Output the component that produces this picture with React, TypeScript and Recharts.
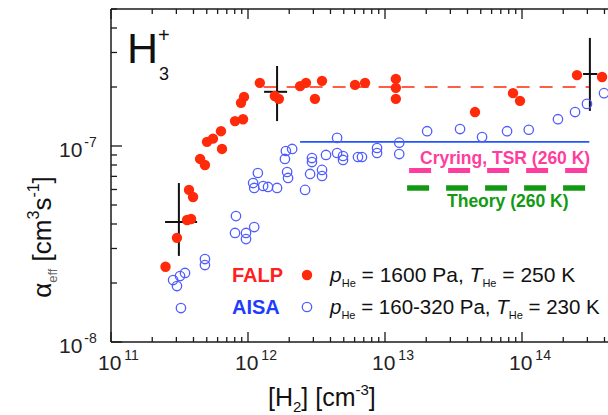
import React from "react";
import { ScatterChart, Scatter, XAxis, YAxis, ReferenceLine } from "recharts";

// ---------- data ----------
const falpX = [2.5e11, 3.03e11, 3.59e11, 3.84e11, 3.71e11, 3.97e11, 4.47e11, 4.85e11, 5.02e11, 5.55e11, 6.35e11, 6.46e11, 8.04e11, 9.2e11, 8.89e11, 9.35e11, 1.22e12, 1.57e12, 1.68e12, 2.4e12, 2.65e12, 3.47e12, 3.08e12, 6.04e12, 7.15e12, 1.2e13, 1.2e13, 1.2e13, 4.54e13, 8.6e13, 9.67e13, 2.52e14, 3.84e14];
const falpY = [2.42e-8, 3.4e-8, 4.19e-8, 4.24e-8, 5.97e-8, 5.49e-8, 8.59e-8, 8.0e-8, 1.05e-7, 1.09e-7, 1.19e-7, 9.66e-8, 1.34e-7, 1.37e-7, 1.66e-7, 1.78e-7, 2.1e-7, 1.8e-7, 1.74e-7, 2.02e-7, 2.1e-7, 2.15e-7, 1.74e-7, 2.05e-7, 2.1e-7, 2.2e-7, 1.98e-7, 1.74e-7, 1.49e-7, 1.86e-7, 1.7e-7, 2.3e-7, 2.25e-7];

const aisaX = [3.24e11, 2.84e11, 3.03e11, 3.19e11, 3.47e11, 4.85e11, 4.85e11, 8.17e11, 8.04e11, 9.67e11, 9.67e11, 1.11e12, 1.09e12, 1.11e12, 1.18e12, 1.29e12, 1.4e12, 1.63e12, 1.93e12, 1.96e12, 2.61e12, 2.84e12, 3.47e12, 3.47e12, 1.86e12, 1.89e12, 2.1e12, 2.93e12, 2.93e12, 3.71e12, 4.47e12, 4.47e12, 4.94e12, 4.94e12, 6.35e12, 6.79e12, 8.75e12, 8.75e12, 1.27e13, 1.27e13, 2.03e13, 3.53e13, 5.11e13, 7.78e13, 1.12e14, 1.83e14, 2.44e14, 2.98e14, 3.97e14];
const aisaY = [1.49e-8, 2.07e-8, 1.93e-8, 2.17e-8, 2.25e-8, 2.65e-8, 2.47e-8, 4.39e-8, 3.6e-8, 3.6e-8, 3.35e-8, 3.86e-8, 6.47e-8, 6.11e-8, 7.28e-8, 6.25e-8, 6.18e-8, 6.11e-8, 7.37e-8, 6.87e-8, 5.97e-8, 7.2e-8, 7.55e-8, 7.03e-8, 8.59e-8, 9.43e-8, 9.66e-8, 8.68e-8, 8.28e-8, 9.0e-8, 9.21e-8, 1.1e-7, 8.89e-8, 8.49e-8, 8.79e-8, 8.79e-8, 9.77e-8, 9.21e-8, 1.04e-7, 9.1e-8, 1.19e-7, 1.22e-7, 1.11e-7, 1.19e-7, 1.21e-7, 1.37e-7, 1.49e-7, 1.64e-7, 1.86e-7];

// horizontal reference levels
const falpFitY = 2.0e-7;
const falpFitX = [1.3e12, 3.1e14];
const aisaFitY = 1.05e-7;
const aisaFitX = [2.4e12, 3.1e14];
const tsrY = 7.5e-8;
const tsrX = [1.5e13, 3.1e14];
const theoryY = 6.1e-8;
const theoryX = [1.45e13, 3.0e14];

// error crosses
const errCenterX = [3.13e11, 1.63e12, 3.13e14];
const errCenterY = [4.09e-8, 1.89e-7, 2.33e-7];
const errXLow = [2.48e11, 1.31e12, 2.79e14];
const errXHigh = [4.25e11, 1.93e12, 3.55e14];
const errYLow = [2.75e-8, 1.34e-7, 1.51e-7];
const errYHigh = [6.47e-8, 2.56e-7, 3.56e-7];

// axes
const xDecades = [1e11, 1e12, 1e13, 1e14, 1e15];
const xLabelledDecades = [1e11, 1e12, 1e13, 1e14];
const yDecades = [1e-8, 1e-7];
const minorMult = [2, 3, 4, 5, 6, 7, 8, 9];
const yTop = 5e-7;

const xTicks: number[] = [];
xDecades.forEach((d, i) => {
  xTicks.push(d);
  if (i < xDecades.length - 1) minorMult.forEach((m) => xTicks.push(d * m));
});
const yTicks: number[] = [];
yDecades.forEach((d) => {
  yTicks.push(d);
  minorMult.forEach((m) => {
    if (d * m <= yTop * 1.0001) yTicks.push(d * m);
  });
});

const falpData = falpX.map((x, i) => ({ x, y: falpY[i] }));
const aisaData = aisaX.map((x, i) => ({ x, y: aisaY[i] }));

// ---------- layout ----------
const FONT = "'Liberation Sans', Arial, Helvetica, sans-serif";
const PL = 111;
const PT = 9;
const PB = 342;
const CW = 680;
const CH = 415;
const AX = "#1a1a1a";

const isDecade = (v: number) => Math.abs(Math.log10(v) - Math.round(Math.log10(v))) < 1e-6;
const isLabelled = (v: number) => xLabelledDecades.some((d) => Math.abs(d - v) / d < 1e-6);

const BottomTick = (props: any) => {
  const { x, payload } = props;
  const v = payload.value;
  const major = isDecade(v);
  const e = Math.round(Math.log10(v));
  return (
    <g>
      <line x1={x} x2={x} y1={PB} y2={PB - (major ? 10 : 5)} stroke={AX} strokeWidth={1.3} />
      {major && isLabelled(v) && (
        <text x={x - 13} y={370} fontSize={21} fontFamily={FONT} fill="#222" textAnchor="start">
          10
          <tspan dx={3} dy={-10} fontSize={14}>{e}</tspan>
        </text>
      )}
    </g>
  );
};

const TopTick = (props: any) => {
  const { x, payload } = props;
  const major = isDecade(payload.value);
  return <line x1={x} x2={x} y1={PT} y2={PT + (major ? 10 : 5)} stroke={AX} strokeWidth={1.3} />;
};

const LeftTick = (props: any) => {
  const { y, payload } = props;
  const v = payload.value;
  const major = isDecade(v);
  const e = Math.round(Math.log10(v));
  return (
    <g>
      <line x1={PL} x2={PL + (major ? 11 : 6)} y1={y} y2={y} stroke={AX} strokeWidth={1.3} />
      {major && (
        <text x={59} y={y + 11} fontSize={21} fontFamily={FONT} fill="#222">
          10
          <tspan dx={2} dy={-10} fontSize={14}>{"-" + Math.abs(e)}</tspan>
        </text>
      )}
    </g>
  );
};

const RedDot = (p: any) => <circle cx={p.cx} cy={p.cy} r={5.2} fill="#ff2a0a" />;
const BlueRing = (p: any) => (
  <circle cx={p.cx} cy={p.cy} r={4.7} fill="none" stroke="#4f5cff" strokeWidth={1.3} />
);

export default function App() {
  return (
    <div style={{ position: "fixed", left: 0, top: 0, width: 608, height: 415, overflow: "hidden", background: "#fff" }}>
      <div style={{ position: "absolute", left: 0, top: 0 }}>
        <ScatterChart width={CW} height={CH} margin={{ top: PT - 1, right: CW - PL - 548, bottom: CH - PB - 1, left: PL - 1 }}>
          <XAxis
            xAxisId={0}
            dataKey="x"
            type="number"
            scale="log"
            domain={[1e11, 1e15]}
            allowDataOverflow
            ticks={xTicks}
            interval={0}
            height={1}
            tickLine={false}
            tick={<BottomTick />}
            axisLine={{ stroke: AX, strokeWidth: 1.5 }}
          />
          <XAxis
            xAxisId="top"
            orientation="top"
            dataKey="x"
            type="number"
            scale="log"
            domain={[1e11, 1e15]}
            allowDataOverflow
            ticks={xTicks}
            interval={0}
            height={1}
            tickLine={false}
            tick={<TopTick />}
            axisLine={{ stroke: AX, strokeWidth: 1.5 }}
          />
          <YAxis
            dataKey="y"
            type="number"
            scale="log"
            domain={[1e-8, yTop]}
            allowDataOverflow
            ticks={yTicks}
            interval={0}
            width={1}
            tickLine={false}
            tick={<LeftTick />}
            axisLine={{ stroke: AX, strokeWidth: 1.5 }}
          />
          <ReferenceLine
            ifOverflow="visible"
            segment={[{ x: aisaFitX[0], y: aisaFitY }, { x: aisaFitX[1], y: aisaFitY }]}
            stroke="#2255ff"
            strokeWidth={1.6}
          />
          <ReferenceLine
            ifOverflow="visible"
            segment={[{ x: falpFitX[0], y: falpFitY }, { x: falpFitX[1], y: falpFitY }]}
            stroke="#ff2a0a"
            strokeWidth={1.6}
            strokeDasharray="13 10"
          />
          <ReferenceLine
            ifOverflow="visible"
            segment={[{ x: tsrX[0], y: tsrY }, { x: tsrX[1], y: tsrY }]}
            stroke="#ff3d9e"
            strokeWidth={5}
            strokeDasharray="22 17"
          />
          <ReferenceLine
            ifOverflow="visible"
            segment={[{ x: theoryX[0], y: theoryY }, { x: theoryX[1], y: theoryY }]}
            stroke="#139a13"
            strokeWidth={5.5}
            strokeDasharray="22 17"
          />
          <Scatter data={aisaData} shape={BlueRing} isAnimationActive={false} />
          <Scatter data={falpData} shape={RedDot} isAnimationActive={false} />
          {errCenterX.map((cx, i) => (
            <ReferenceLine
              key={"v" + i}
              ifOverflow="visible"
              segment={[{ x: cx, y: errYLow[i] }, { x: cx, y: errYHigh[i] }]}
              stroke="#111"
              strokeWidth={2}
            />
          ))}
          {errCenterY.map((cy, i) => (
            <ReferenceLine
              key={"h" + i}
              ifOverflow="visible"
              segment={[{ x: errXLow[i], y: cy }, { x: errXHigh[i], y: cy }]}
              stroke="#111"
              strokeWidth={2}
            />
          ))}
        </ScatterChart>
      </div>
      <svg
        width={608}
        height={415}
        style={{ position: "absolute", left: 0, top: 0, pointerEvents: "none" }}
        fontFamily={FONT}
      >
        {/* H3+ */}
        <text x={127} y={63} fontSize={43} fill="#111">H</text>
        <text x={159} y={80} fontSize={18} fill="#111">3</text>
        <text x={158} y={42} fontSize={20} fill="#111">+</text>

        {/* method labels */}
        <text x={420} y={164} fontSize={17.5} fontWeight="bold" fill="#ff3d9e">Cryring, TSR (260 K)</text>
        <text x={447} y={207} fontSize={17.5} fontWeight="bold" fill="#139a13">Theory (260 K)</text>

        {/* legend */}
        <text x={232} y={282} fontSize={20} fontWeight="bold" fill="#ff2020">FALP</text>
        <circle cx={307} cy={275} r={5.2} fill="#ff2a0a" />
        <text x={330} y={282} fontSize={21} fill="#111">
          <tspan fontStyle="italic">p</tspan>
          <tspan fontSize={11} dy={5}>He</tspan>
          <tspan dy={-5}> = 1600 Pa, </tspan>
          <tspan fontStyle="italic">T</tspan>
          <tspan fontSize={11} dy={5}>He</tspan>
          <tspan dy={-5}> = 250 K</tspan>
        </text>
        <text x={232} y={314} fontSize={20} fontWeight="bold" fill="#1e3cff">AISA</text>
        <circle cx={307} cy={307} r={4.7} fill="none" stroke="#4f5cff" strokeWidth={1.3} />
        <text x={330} y={314} fontSize={20.5} fill="#111">
          <tspan fontStyle="italic">p</tspan>
          <tspan fontSize={11} dy={5}>He</tspan>
          <tspan dy={-5}> = 160-320 Pa, </tspan>
          <tspan fontStyle="italic">T</tspan>
          <tspan fontSize={11} dy={5}>He</tspan>
          <tspan dy={-5}> = 230 K</tspan>
        </text>

        {/* axis titles */}
        <text x={268} y={406} fontSize={25} fill="#111">
          [H<tspan fontSize={15} dy={6}>2</tspan>
          <tspan dy={-6}>] [cm</tspan>
          <tspan fontSize={15} dy={-11}>-3</tspan>
          <tspan dy={11}>]</tspan>
        </text>
        <text transform="translate(51,237) rotate(-90)" textAnchor="middle" fontSize={26} fill="#111">
          α<tspan fontSize={13} dy={6} fill="#666">eff</tspan>
          <tspan dy={-6}> [cm</tspan>
          <tspan fontSize={16} dy={-12}>3</tspan>
          <tspan dy={12}>s</tspan>
          <tspan fontSize={16} dy={-12}>-1</tspan>
          <tspan dy={12}>]</tspan>
        </text>
      </svg>
    </div>
  );
}
